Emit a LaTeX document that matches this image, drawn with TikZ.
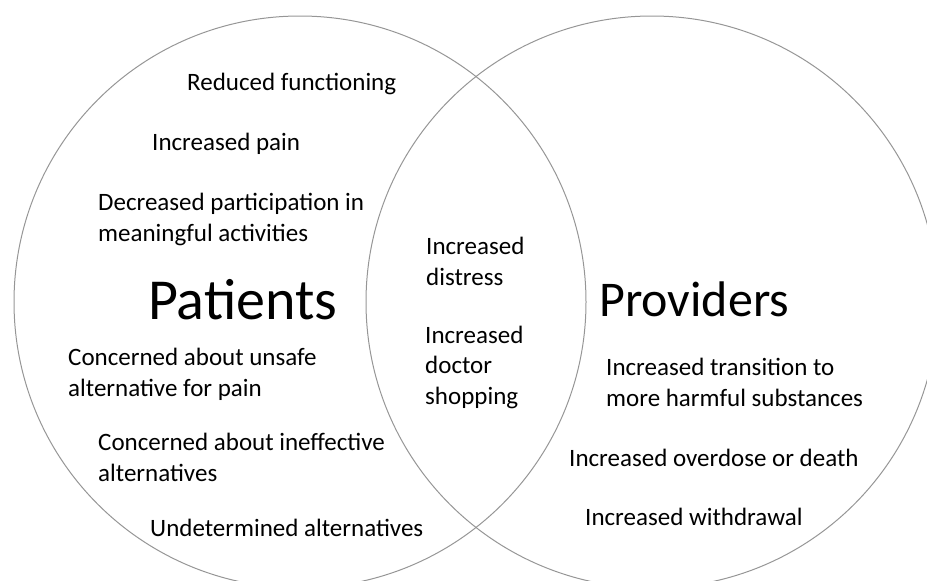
\documentclass[tikz,border=0pt]{standalone}
\usepackage{fontspec}
\setmainfont{Carlito}
\definecolor{ringgray}{RGB}{150,150,150}

\begin{document}
\begin{tikzpicture}[x=1pt,y=-1pt,
  ring/.style={draw=ringgray,line width=1pt},
  item/.style={inner sep=0pt,anchor=base west,align=left,
    font=\fontsize{25}{30.5}\selectfont},
  group/.style={inner sep=0pt,anchor=base west,
    font=\fontsize{50}{60}\selectfont}]
\useasboundingbox (0,0) rectangle (927,581);
% the two overlapping sets
\draw[ring] (300,302) circle (286);
\draw[ring] (652,302) circle (286);

\node[group,font=\fontsize{58}{68}\selectfont] (patients) at (148,319) {Patients};
\node[group] (providers) at (599,316) {Providers};

% patients only (base = last line)
\node[item] (functioning) at (187,90) {Reduced functioning};
\node[item] (pain) at (152,150) {Increased pain};
\node[item] (participation) at (98,241)
	{Decreased participation in\\meaningful activities};
\node[item] (unsafe) at (68,396)
	{Concerned about unsafe\\alternative for pain};
\node[item] (ineffective) at (98,481)
	{Concerned about ineffective\\alternatives};
\node[item] (undetermined) at (150,536) {Undetermined alternatives};

% shared
\node[item] (distress) at (426,285) {Increased\\distress};
\node[item] (shopping) at (425,404) {Increased\\doctor\\shopping};

% providers only
\node[item] (transition) at (606,406)
	{Increased transition to\\more harmful substances};
\node[item] (overdose) at (569,466) {Increased overdose or death};
\node[item] (withdrawal) at (585,525) {Increased withdrawal};
\end{tikzpicture}
\end{document}
